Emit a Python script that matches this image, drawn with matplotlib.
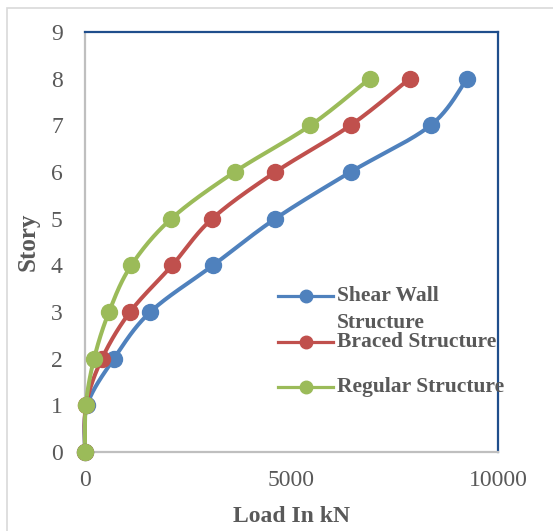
import numpy as np
import matplotlib
matplotlib.use("Agg")
import matplotlib.pyplot as plt
from matplotlib.lines import Line2D
from matplotlib.patches import Rectangle

# Storey shear load per floor (kN)
stories = [0, 1, 2, 3, 4, 5, 6, 7, 8]
shear_wall = [0, 50, 700, 1580, 3100, 4610, 6430, 8370, 9250]
braced = [0, 25, 410, 1090, 2110, 3080, 4610, 6430, 7860]
regular = [0, 20, 220, 580, 1120, 2090, 3620, 5460, 6890]

series_names = [["Shear Wall", "Structure"], ["Braced Structure"], ["Regular Structure"]]
series_colors = ["#4F81BD", "#C0504D", "#9BBB59"]

x_ticks = [0, 5000, 10000]
y_ticks = list(range(0, 10))

plt.rcParams["font.family"] = ["Liberation Serif", "DejaVu Serif"]
TEXT = "#595959"


def smooth(xs, ys, n=40):
    """Catmull-Rom style smoothing (spreadsheet 'smoothed line')."""
    p = np.column_stack([xs, ys]).astype(float)
    pts = np.vstack([p[0], p, p[-1]])
    out = []
    for i in range(1, len(pts) - 2):
        p0, p1, p2, p3 = pts[i - 1], pts[i], pts[i + 1], pts[i + 2]
        b1 = p1 + (p2 - p0) / 6.0
        b2 = p2 - (p3 - p1) / 6.0
        t = np.linspace(0, 1, n)[:, None]
        seg = ((1 - t) ** 3) * p1 + 3 * ((1 - t) ** 2) * t * b1 \
            + 3 * (1 - t) * t ** 2 * b2 + t ** 3 * p2
        out.append(seg if i == 1 else seg[1:])
    c = np.vstack(out)
    return c[:, 0], c[:, 1]


fig = plt.figure(figsize=(5.53, 5.31), dpi=100)
fig.patches.append(Rectangle((7 / 553, -0.1), 1.2, 1 - 8 / 531 + 0.1,
                             transform=fig.transFigure, fill=False,
                             edgecolor="#D9D9D9", linewidth=1.2))

ax = fig.add_axes([85 / 553, 1 - 452 / 531, 413 / 553, 420 / 531])

for vals, color in zip([shear_wall, braced, regular], series_colors):
    sx, sy = smooth(vals, stories)
    ax.plot(sx, sy, color=color, linewidth=2.9, solid_capstyle="round",
            zorder=3, clip_on=False)
    ax.plot(vals, stories, linestyle="none", marker="o", markersize=11.5,
            color=color, zorder=4, clip_on=False)

ax.set_xlim(0, 10000)
ax.set_ylim(0, 9)
ax.set_xticks(x_ticks)
ax.set_yticks(y_ticks)
ax.tick_params(length=0, labelsize=17, labelcolor=TEXT)
ax.tick_params(axis="x", pad=13)
ax.tick_params(axis="y", pad=16)

for side in ["left", "bottom"]:
    ax.spines[side].set_color("#BFBFBF")
    ax.spines[side].set_linewidth(1.6)
for side in ["top", "right"]:
    ax.spines[side].set_color("#1F4E8C")
    ax.spines[side].set_linewidth(1.6)

ax.set_xlabel("Load In kN", fontsize=17, fontweight="bold", color=TEXT, labelpad=11)
ax.set_ylabel("Story", fontsize=18, fontweight="bold", color=TEXT, labelpad=8)

# Legend entries drawn inside the plot area
def fx(px):
    return (px - 85) / 413


def fy(py):
    return (452 - py) / 420


legend_rows = [296, 342, 387]
for lines, color, row in zip(series_names, series_colors, legend_rows):
    ax.add_line(Line2D([fx(278), fx(333)], [fy(row), fy(row)], color=color,
                       linewidth=2.3, transform=ax.transAxes, clip_on=False,
                       zorder=5))
    ax.add_line(Line2D([fx(306)], [fy(row)], color=color, marker="o",
                       markersize=9, transform=ax.transAxes, clip_on=False,
                       zorder=5))
    for k, line in enumerate(lines):
        ax.text(fx(337), fy(row + 27 * k), line, transform=ax.transAxes,
                fontsize=15.5, fontweight="bold", color=TEXT, ha="left",
                va="center", clip_on=False, zorder=6)

fig.savefig("out.png", dpi=100)
